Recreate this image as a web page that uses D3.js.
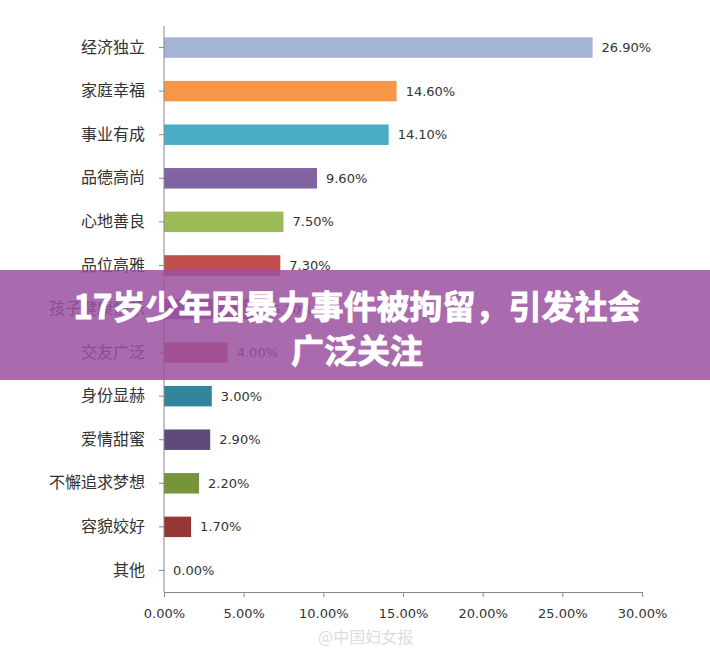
<!DOCTYPE html>
<html><head><meta charset="utf-8">
<script src="https://cdn.jsdelivr.net/npm/d3@7"></script>
<style>body{margin:0;background:#fff;font-family:"Noto Sans CJK SC","Noto Sans",sans-serif;}</style>
</head><body>
<svg width="710" height="655"></svg>
<script>
const categories = ["经济独立","家庭幸福","事业有成","品德高尚","心地善良","品位高雅","孩子健康快乐","交友广泛","身份显赫","爱情甜蜜","不懈追求梦想","容貌姣好","其他"];
const values = [26.9,14.6,14.1,9.6,7.5,7.3,6.2,4.0,3.0,2.9,2.2,1.7,0.0];
const colors = ["#a5b3d6","#f79646","#4bacc6","#8064a2","#9bbb59","#c0504d","#8064a2","#c0504d","#31859c","#604a7b","#77933c","#953735","#999"];
const ticks = [0,5,10,15,20,25,30];

const svg = d3.select("svg");
svg.append("rect").attr("width",710).attr("height",655).attr("fill","#fff");
const x = d3.scaleLinear().domain([0,30]).range([164,642]);
const y = d3.scaleBand().domain(categories).range([26,592]).paddingInner(0.53).paddingOuter(0.26);

// bars
svg.selectAll(".bar").data(categories).enter().append("rect")
  .attr("x", x(0)).attr("y", d => y(d))
  .attr("width", (d,i) => x(values[i]) - x(0))
  .attr("height", y.bandwidth())
  .attr("fill", (d,i) => colors[i]);

svg.selectAll(".val").data(categories).enter().append("text")
  .attr("x", (d,i) => x(values[i]) + 9).attr("y", d => y(d) + y.bandwidth()/2)
  .attr("dy","0.35em").attr("font-size",14).attr("fill","#333")
  .attr("font-family","DejaVu Sans, sans-serif").attr("font-size",13)
  .text((d,i) => values[i].toFixed(2) + "%");

// y axis
const yAxis = svg.append("g").attr("transform",`translate(${x(0)},0)`)
  .call(d3.axisLeft(y).tickSize(5).tickPadding(14).tickSizeOuter(0));
yAxis.select(".domain").attr("stroke","#888").attr("d","M0,26V592");
yAxis.selectAll(".tick line").attr("stroke","#888");
yAxis.selectAll("text").attr("font-size",16).attr("fill","#333").attr("font-family","Noto Sans CJK SC");

// x axis
const xAxis = svg.append("g").attr("transform","translate(0,592)")
  .call(d3.axisBottom(x).tickValues(ticks).tickSize(5).tickPadding(12).tickSizeOuter(0).tickFormat(d => d.toFixed(2) + "%"));
xAxis.select(".domain").attr("stroke","#888");
xAxis.selectAll(".tick line").attr("stroke","#888");
xAxis.selectAll("text").attr("font-size",13).attr("fill","#333").attr("font-family","DejaVu Sans, sans-serif");

// watermark
svg.append("text").attr("x",318).attr("y",643).attr("font-size",16).attr("fill","#ddd").text("@中国妇女报");

// banner overlay
svg.append("rect").attr("x",0).attr("y",270).attr("width",710).attr("height",110).attr("fill","rgba(155,80,160,0.85)");
svg.append("text").attr("x",357).attr("y",319).attr("text-anchor","middle").attr("font-size",33).attr("font-weight","bold").attr("fill","#fff").attr("stroke","#fff").attr("stroke-width",0.8).text("17岁少年因暴力事件被拘留，引发社会");
svg.append("text").attr("x",357).attr("y",363).attr("text-anchor","middle").attr("font-size",33).attr("font-weight","bold").attr("fill","#fff").attr("stroke","#fff").attr("stroke-width",0.8).text("广泛关注");
</script>
</body></html>
